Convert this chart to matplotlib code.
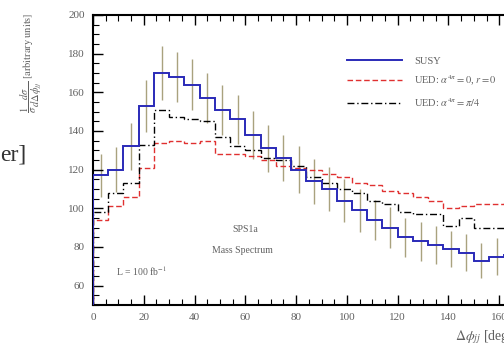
import numpy as np
import matplotlib
matplotlib.use('Agg')
import matplotlib.pyplot as plt
from matplotlib.ticker import MultipleLocator

plt.rcParams['font.family'] = ['Liberation Serif', 'DejaVu Serif']
plt.rcParams['mathtext.fontset'] = 'stix'

# delta phi bins, 6 deg wide
edges = np.arange(0, 169, 6)

susy = [117, 120, 132, 153, 170, 168, 164, 157, 151, 146, 138, 131, 126, 120,
        114, 110, 104, 99, 94, 90, 85, 83, 81, 79, 77, 73, 75, 76]
susy_err = [11, 11.5, 12, 13.5, 14, 13, 13, 13, 13, 12.5, 12.5, 12, 12, 12,
            11.5, 11.5, 11, 11, 10.5, 10.5, 10, 10, 10, 9.5, 9.5, 9, 9.5, 9.5]
ued_0 = [94, 101, 106, 121, 134, 135, 134, 135, 128, 128, 127, 125, 122, 121,
         120, 118, 116, 113, 112, 109, 108, 106, 104, 100, 101, 102, 102, 103]
ued_pi4 = [98, 108, 113, 133, 151, 147, 146, 145, 137, 132, 130, 126, 125, 122,
           116, 113, 110, 108, 104, 102, 98, 97, 97, 91, 95, 90, 90, 90]

fig = plt.figure(figsize=(5.04, 3.49), dpi=100)
ax = fig.add_axes([93 / 504, 44 / 349, 457 / 504, 290 / 349])

centers = 0.5 * (edges[:-1] + edges[1:])
ax.errorbar(centers, susy, yerr=susy_err, fmt='none', ecolor='#a9a27e',
            elinewidth=1.0, capsize=0, zorder=1)
ax.stairs(ued_0, edges, color='#e03030', lw=1.0, ls=(0, (4, 2)),
          label=r'UED: $\alpha^{4\pi} = 0$, $r = 0$', zorder=2)
ax.stairs(ued_pi4, edges, color='black', lw=1.0, ls=(0, (5, 2, 1, 2)),
          label=r'UED: $\alpha^{4\pi} = \pi/4$', zorder=3)
ax.stairs(susy, edges, color='#2a2ab8', lw=1.4, label='SUSY', zorder=4)

ax.set_xlim(0, 180)
ax.set_ylim(50, 200)
ax.xaxis.set_major_locator(MultipleLocator(20))
ax.xaxis.set_minor_locator(MultipleLocator(5))
ax.yaxis.set_major_locator(MultipleLocator(20))
ax.yaxis.set_minor_locator(MultipleLocator(5))
ax.set_yticks(np.arange(60, 201, 20))
ax.tick_params(which='both', direction='in', top=True, right=True,
               labelsize=8, labelcolor='#606060', pad=6)
ax.tick_params(which='major', length=7, width=1.0)
ax.tick_params(which='minor', length=4, width=0.8)
for s in ax.spines.values():
    s.set_linewidth(1.5)

h, l = ax.get_legend_handles_labels()
order = [2, 0, 1]
ax.legend([h[i] for i in order], [l[i] for i in order], loc='upper left',
          bbox_to_anchor=(338 / 504, 1 - 47 / 349), bbox_transform=fig.transFigure,
          frameon=False, fontsize=7.5, handlelength=5.2, labelspacing=0.75,
          handletextpad=1.2, labelcolor='#606060')

ax.text(60, 88, 'SPS1a', fontsize=7, color='#606060', ha='center')
ax.text(59, 77, 'Mass Spectrum', fontsize=7, color='#606060', ha='center')
ax.text(19, 65, r'L = 100 fb$^{-1}$', fontsize=7, color='#606060', ha='center')

fig.text(455 / 504, 1 - 340 / 349, r'$\Delta\phi_{jj}$ [deg]', fontsize=10,
         color='#606060', ha='left', va='baseline')
fig.text(31 / 504, 1 - 13 / 349,
         r'$\dfrac{1}{\sigma}\dfrac{d\sigma}{d\Delta\phi_{jj}}$ $\left[\mathrm{arbitrary\ units}\right]$',
         rotation=90, fontsize=7.5, color='#606060', ha='center', va='top')
fig.text(0, 1 - 160 / 349, 'er]', fontsize=17, color='#333333', ha='left', va='baseline')

fig.savefig('out.png', dpi=100)
